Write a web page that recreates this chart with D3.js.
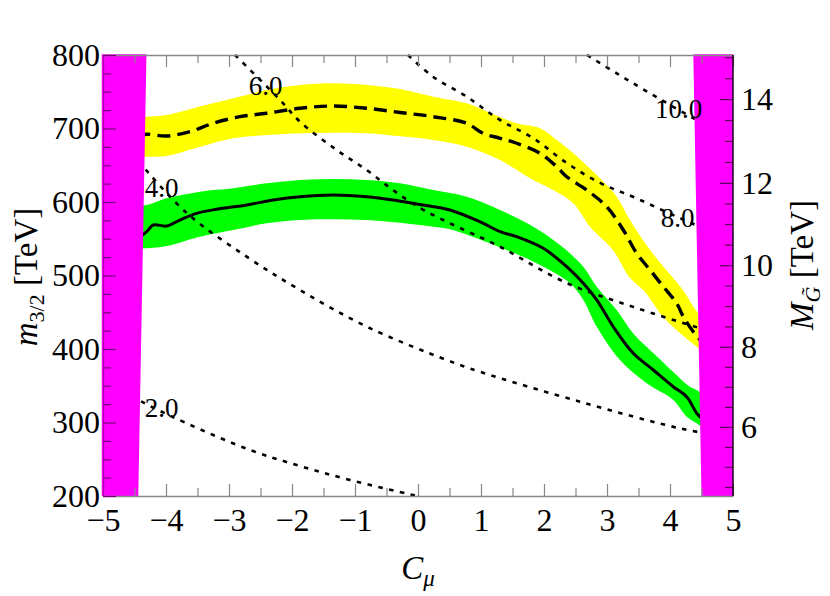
<!DOCTYPE html>
<html>
<head>
<meta charset="utf-8">
<script src="https://cdn.jsdelivr.net/npm/d3@7"></script>
<style>
  body { margin: 0; background: #fff; }
  svg { font-family: "Liberation Serif", "Times New Roman", serif; }
</style>
</head>
<body>
<div id="chart"></div>
<script>
// axis ticks
var xTicks = [-5, -4, -3, -2, -1, 0, 1, 2, 3, 4, 5]
var yTicks = [200, 300, 400, 500, 600, 700, 800]
var gluinoTicks = [6, 8, 10, 12, 14]
// m3/2 value at which each gluino-mass tick sits on the right axis
var gluinoAtM = [294, 403, 514, 626, 740]

// [C_mu, m3/2] pairs
var yellowUpper = [[-4.45,716],[-4.306,716.1],[-3.989,718.4],[-3.567,727.5],[-2.932,741.1],[-2.402,752.4],[-1.873,759.2],[-1.344,761.5],[-0.814,759.2],[-0.286,753.7],[0.243,743.3],[0.773,734.3],[1.037,725.2],[1.567,707.1],[1.937,700.3],[2.202,684.4],[2.465,666.3],[2.889,632.2],[3.154,607.2],[3.365,575.5],[3.683,534.7],[3.968,504.8],[4.206,480.3],[4.408,453.1],[4.5,445]]
var yellowLower = [[-4.45,661.6],[-4.306,661.6],[-3.989,662.6],[-3.460,675.2],[-2.932,686.7],[-2.402,691.2],[-1.873,693.5],[-1.344,694.3],[-0.814,693.5],[-0.286,689.4],[0.243,684.4],[0.773,675.2],[1.302,657.1],[1.830,629.9],[2.148,616.3],[2.465,598.2],[2.730,566.4],[3.095,534.7],[3.349,498.4],[3.60,478],[3.889,443.9],[4.159,421.8],[4.424,403.1],[4.5,398]]
var dashedCenter = [[-4.45,690],[-4.306,692.1],[-3.989,689.8],[-3.619,695.6],[-3.254,707.1],[-2.825,716.1],[-2.402,720.7],[-1.873,727.5],[-1.349,730.6],[-0.814,727.5],[-0.286,721.8],[0.238,716.1],[0.773,707.1],[1.032,693.5],[1.302,686.7],[1.567,679.9],[1.937,666.3],[2.202,648.0],[2.36,634.4],[2.678,616.3],[2.995,593.6],[3.259,561.9],[3.471,530.2],[3.683,507.5],[3.894,484.8],[4.106,462.2],[4.211,443.9],[4.370,423.5],[4.5,410]]

var greenUpper = [[-4.45,596],[-4.306,595.9],[-3.989,605.0],[-3.460,614.0],[-2.932,618.6],[-2.402,625.4],[-1.873,629.9],[-1.344,631.3],[-0.814,629.9],[-0.286,625.4],[0.243,616.3],[0.773,607.2],[1.302,589.1],[1.830,566.4],[2.254,541.5],[2.624,512.0],[2.837,484.8],[3.154,453.1],[3.417,421],[3.789,390],[4.159,360],[4.317,348.7],[4.424,344.2],[4.5,340]]
var greenLower = [[-4.45,537],[-4.306,537],[-3.989,540.1],[-3.460,552.8],[-2.932,561.9],[-2.402,571.0],[-1.873,575.5],[-1.344,576.5],[-0.814,575.5],[-0.286,571.8],[0.243,566.4],[0.508,562.9],[1.408,534.7],[1.884,516.6],[2.413,489.4],[2.624,466.7],[2.837,430.3],[3.206,385.0],[3.630,353.3],[4.052,330.6],[4.265,307.9],[4.424,298.9],[4.5,294]]
var solidCenter = [[-4.45,550],[-4.306,559.6],[-4.202,568.7],[-3.989,567.3],[-3.778,575.5],[-3.513,584.6],[-3.195,590.1],[-2.719,595.9],[-2.297,602.7],[-1.873,607.2],[-1.344,609.5],[-0.814,607.2],[-0.392,602.7],[-0.021,597.3],[0.508,589.1],[1.037,571.0],[1.302,559.6],[1.567,552.8],[1.989,537.0],[2.360,512.0],[2.624,489.4],[2.837,466.7],[3.100,430.3],[3.417,394.1],[3.735,371.4],[4.052,348.7],[4.265,335.1],[4.424,312.6],[4.5,306]]

// gluino mass contours (TeV)
var contour2 = [[-5,359],[-4.386,328.3],[-3.671,298.9],[-2.667,262.6],[-1.873,240.8],[-1.079,221.8],[-0.032,200.4]]
var contour4 = [[-5,712.5],[-4.519,663.9],[-4.386,650.3],[-3.67,585],[-2.72,525.6],[-1.873,480.3],[-0.81,430.3],[0.456,385],[0.984,369],[2.57,328.3],[4.16,292],[5,279]]
var contour6 = [[-2.905,800],[-2.19,738.8],[-1.873,709.3],[-1.29,670.7],[-0.814,643.5],[-0.397,616.3],[0.032,591.8],[0.456,573.2],[1.30,539.2],[2.36,489.8],[3.41,457.5],[4.476,428.2],[5,414.6]]
var contour8 = [[-0.159,800],[0.238,770.5],[0.773,743.3],[1.30,711.6],[1.825,687.1],[2.36,653.1],[2.89,625.9],[3.41,607.2],[4.476,566.4],[5,551]]
var contour10 = [[2.683,800],[3.154,775.1],[3.683,747.9],[4.424,711.6],[5,686.7]]
var contourLines = [contour2, contour4, contour6, contour8, contour10]
var contourLabels = ["2.0", "4.0", "6.0", "8.0", "10.0"]
var labelAt = [[-4.07,319.7],[-4.07,619],[-2.42,757.8],[4.12,578.9],[4.135,726.5]]

// excluded regions (magenta)
var leftExcl = [[-5.02,801],[-4.31,801],[-4.44,200],[-5.02,200]]
var rightExcl = [[4.37,801],[4.50,200],[5,200],[5,801]]

var width = 830, height = 596
var margin = {top: 55, right: 97, bottom: 100, left: 103}

var svg = d3.select('#chart')
            .append('svg')
            .attr('width', width)
            .attr('height', height)

var x = d3.scaleLinear().domain([-5, 5]).range([margin.left, width - margin.right])
var y = d3.scaleLinear().domain([200, 800]).range([height - margin.bottom, margin.top])
var yG = d3.scaleLinear().domain(gluinoTicks).range(gluinoAtM.map(function(m) { return y(m) }))

svg.append('defs').append('clipPath').attr('id', 'plotclip')
   .append('rect')
   .attr('x', x(-5)).attr('y', y(800) - 1)
   .attr('width', x(5) - x(-5) + 1).attr('height', y(200) - y(800) + 1)

var plot = svg.append('g').attr('clip-path', 'url(#plotclip)')

var line = d3.line()
             .x(function(d) { return x(d[0]) })
             .y(function(d) { return y(d[1]) })
             .curve(d3.curveCatmullRom)

function band(upper, lower) {
    return line(upper) + 'L' + line(lower.slice().reverse()).slice(1) + 'Z'
}

plot.append('path').attr('d', band(yellowUpper, yellowLower)).attr('fill', '#ffff00')
plot.append('path').attr('d', band(greenUpper, greenLower)).attr('fill', '#00ff00')

plot.append('path').attr('d', line(dashedCenter))
    .attr('fill', 'none').attr('stroke', '#000').attr('stroke-width', 3.4)
    .attr('stroke-dasharray', '13,7')
plot.append('path').attr('d', line(solidCenter))
    .attr('fill', 'none').attr('stroke', '#000').attr('stroke-width', 3)

var poly = d3.line().x(function(d) { return x(d[0]) }).y(function(d) { return y(d[1]) })
svg.append('path').attr('d', poly(leftExcl) + 'Z').attr('fill', '#ff00ff')
svg.append('path').attr('d', poly(rightExcl) + 'Z').attr('fill', '#ff00ff')

plot.selectAll('.contour')
    .data(contourLines)
    .enter()
    .append('path')
    .attr('class', 'contour')
    .attr('d', line)
    .attr('fill', 'none')
    .attr('stroke', '#000')
    .attr('stroke-width', 2.6)
    .attr('stroke-dasharray', '4.5,6.5')

svg.selectAll('.clabel')
   .data(contourLabels)
   .enter()
   .append('text')
   .attr('class', 'clabel')
   .attr('x', function(d, i) { return x(labelAt[i][0]) })
   .attr('y', function(d, i) { return y(labelAt[i][1]) })
   .attr('dy', '0.35em')
   .attr('text-anchor', 'middle')
   .attr('font-size', '27px')
   .text(function(d) { return d })

// axes: ticks point inward
var minorX = d3.range(-4.5, 5, 1)
var minorY = d3.range(225, 800, 25).filter(function(v) { return v % 100 !== 0 })
var minorG = d3.range(4.5, 15.01, 0.5).filter(function(v) { return v % 2 !== 0 && yG(v) >= margin.top && yG(v) <= height - margin.bottom })

function styleAxis(g, col, lineCol) {
    g.selectAll('.tick line').attr('stroke', col).attr('stroke-width', 1.2)
    g.select('.domain').attr('stroke', lineCol).attr('stroke-width', 1.3)
    g.selectAll('text').attr('font-size', '32px').attr('fill', '#000')
     .attr('font-family', '"Liberation Serif", serif')
}

function addAxis(axis, tx, ty, col, lineCol) {
    var g = svg.append('g')
               .attr('transform', `translate(${tx}, ${ty})`)
               .call(axis)
    styleAxis(g, col, lineCol)
    return g
}

addAxis(d3.axisBottom(x).tickValues(xTicks).tickSizeInner(-12).tickSizeOuter(0).tickPadding(12), 0, y(200), '#888', '#888')
addAxis(d3.axisBottom(x).tickValues(minorX).tickSizeInner(-8).tickSizeOuter(0).tickFormat(''), 0, y(200), '#888', 'none')
addAxis(d3.axisTop(x).tickValues(xTicks).tickSizeInner(-12).tickSizeOuter(0).tickFormat(''), 0, y(800), '#888', '#888')
addAxis(d3.axisTop(x).tickValues(minorX).tickSizeInner(-8).tickSizeOuter(0).tickFormat(''), 0, y(800), '#888', 'none')

addAxis(d3.axisLeft(y).tickValues(yTicks).tickSizeInner(-13).tickSizeOuter(0).tickPadding(3), x(-5), 0, '#7a007a', '#b000b0')
addAxis(d3.axisLeft(y).tickValues(minorY).tickSizeInner(-8).tickSizeOuter(0).tickFormat(''), x(-5), 0, '#7a007a', 'none')

addAxis(d3.axisRight(yG).tickValues(gluinoTicks).tickSizeInner(-13).tickSizeOuter(0).tickPadding(8), x(5), 0, '#5a005a', 'none')
addAxis(d3.axisRight(yG).tickValues(minorG).tickSizeInner(-8).tickSizeOuter(0).tickFormat(''), x(5), 0, '#5a005a', 'none')
svg.append('line')
   .attr('x1', x(5)).attr('x2', x(5))
   .attr('y1', y(800)).attr('y2', y(200))
   .attr('stroke', '#1a001a').attr('stroke-width', 1.5)

// axis titles
var xTitle = svg.append('text')
                .attr('x', x(0))
                .attr('y', 579)
                .attr('text-anchor', 'middle')
                .attr('font-size', '33px')
xTitle.append('tspan').attr('font-style', 'italic').text('C')
xTitle.append('tspan').attr('font-style', 'italic').attr('font-size', '23px').attr('dy', 7).text('μ')

var yTitle = svg.append('text')
                .attr('transform', 'translate(37, 277) rotate(-90)')
                .attr('text-anchor', 'middle')
                .attr('font-size', '33px')
yTitle.append('tspan').attr('font-style', 'italic').text('m')
yTitle.append('tspan').attr('font-size', '22px').attr('dy', 7).text('3/2')
yTitle.append('tspan').attr('dy', -7).text(' [TeV]')

var gTitle = svg.append('text')
                .attr('transform', 'translate(813, 265) rotate(-90)')
                .attr('text-anchor', 'middle')
                .attr('font-size', '33px')
gTitle.append('tspan').attr('font-style', 'italic').text('M')
gTitle.append('tspan').attr('font-style', 'italic').attr('font-size', '22px').attr('dy', 7).text('G\u0303')
gTitle.append('tspan').attr('dy', -7).text(' [TeV]')
</script>
</body>
</html>
